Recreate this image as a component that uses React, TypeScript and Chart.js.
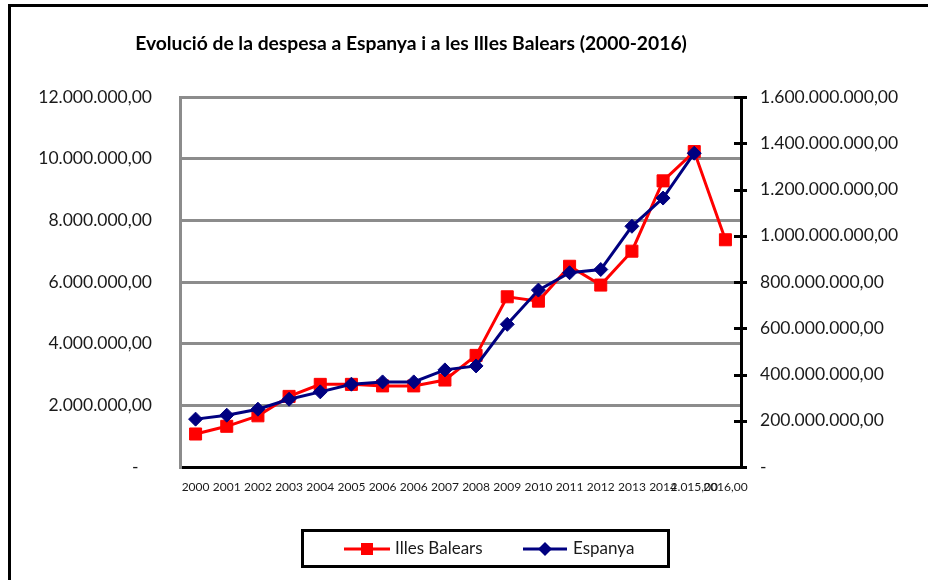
import React, { useEffect, useRef } from 'react';
import { Chart, registerables } from 'chart.js';

Chart.register(...registerables);

const categories = ['2000', '2001', '2002', '2003', '2004', '2005', '2006', '2006', '2007', '2008', '2009', '2010', '2011', '2012', '2013', '2014', '2.015,00', '2016,00'];
const illesBalears = [1070000, 1320000, 1660000, 2290000, 2680000, 2680000, 2630000, 2630000, 2820000, 3620000, 5520000, 5380000, 6510000, 5900000, 7000000, 9280000, 10230000, 7370000];
const espanya = [207000000, 224000000, 250000000, 293000000, 325000000, 358000000, 368000000, 368000000, 420000000, 437000000, 617000000, 765000000, 840000000, 854000000, 1041000000, 1163000000, 1357000000, null];
const leftMax = 12000000;
const leftStep = 2000000;
const rightMax = 1600000000;
const rightStep = 200000000;
const titleText = 'Evolució de la despesa a Espanya i a les Illes Balears (2000-2016)';
const seriesNames = ['Illes Balears', 'Espanya'];

const RED = '#ff0000';
const BLUE = '#000080';
const GRID = '#8c8c8c';
const TEXT = '#1a1a1a';
const FONT = 'Lato';

function fmt(v: number, zeroLabel: string): string {
  if (v === 0) return zeroLabel;
  const s = Math.round(v).toString().replace(/\B(?=(\d{3})+(?!\d))/g, '.');
  return s + ',00';
}

const decor = {
  id: 'decor',
  afterDraw(chart: any) {
    const ctx = chart.ctx as CanvasRenderingContext2D;
    ctx.save();
    // frame
    ctx.strokeStyle = '#000';
    ctx.lineWidth = 3;
    ctx.beginPath();
    ctx.moveTo(9.5, 600);
    ctx.lineTo(9.5, 5.5);
    ctx.lineTo(940, 5.5);
    ctx.stroke();

    // title
    ctx.fillStyle = '#000';
    ctx.font = `bold 19.3px ${FONT}`;
    ctx.textAlign = 'center';
    ctx.textBaseline = 'middle';
    ctx.fillText(titleText, 411, 44);

    // right axis tick crosses
    const y1 = chart.scales.y1;
    const xr = chart.chartArea.right;
    ctx.strokeStyle = '#000';
    ctx.lineWidth = 3;
    y1.ticks.forEach((t: any) => {
      const py = Math.round(y1.getPixelForValue(t.value)) + 0.5;
      ctx.beginPath();
      ctx.moveTo(xr - 7, py);
      ctx.lineTo(xr + 6, py);
      ctx.stroke();
    });

    // legend
    ctx.lineWidth = 3;
    ctx.strokeStyle = '#000';
    ctx.strokeRect(302.5, 530.5, 366, 36);
    const ly = 549;
    ctx.strokeStyle = RED;
    ctx.lineWidth = 3;
    ctx.beginPath();
    ctx.moveTo(344, ly);
    ctx.lineTo(390, ly);
    ctx.stroke();
    ctx.fillStyle = RED;
    ctx.fillRect(361, ly - 6, 12, 12);
    ctx.strokeStyle = BLUE;
    ctx.beginPath();
    ctx.moveTo(523, ly);
    ctx.lineTo(567, ly);
    ctx.stroke();
    ctx.fillStyle = BLUE;
    ctx.beginPath();
    ctx.moveTo(545, ly - 7);
    ctx.lineTo(552, ly);
    ctx.lineTo(545, ly + 7);
    ctx.lineTo(538, ly);
    ctx.closePath();
    ctx.fill();
    ctx.fillStyle = TEXT;
    ctx.font = `17px ${FONT}`;
    ctx.textAlign = 'left';
    ctx.textBaseline = 'middle';
    ctx.fillText(seriesNames[0], 395, ly);
    ctx.fillText(seriesNames[1], 573, ly);
    ctx.restore();
  },
};

export default function App() {
  const ref = useRef<HTMLCanvasElement | null>(null);
  useEffect(() => {
    if (!ref.current) return;
    const chart = new Chart(ref.current, {
      type: 'line',
      data: {
        labels: categories,
        datasets: [
          {
            label: seriesNames[0],
            data: illesBalears,
            yAxisID: 'y',
            borderColor: RED,
            backgroundColor: RED,
            borderWidth: 3,
            pointStyle: 'rect',
            pointRadius: 8.5,
            pointBorderWidth: 1,
            pointBorderColor: RED,
            pointBackgroundColor: RED,
            tension: 0,
            order: 1,
          },
          {
            label: seriesNames[1],
            data: espanya,
            yAxisID: 'y1',
            borderColor: BLUE,
            backgroundColor: BLUE,
            borderWidth: 3,
            pointStyle: 'rectRot',
            pointRadius: 7,
            pointBorderWidth: 1,
            pointBorderColor: BLUE,
            pointBackgroundColor: BLUE,
            tension: 0,
            spanGaps: false,
            order: 0,
          },
        ],
      },
      options: {
        responsive: false,
        animation: false,
        devicePixelRatio: 1,
        layout: { padding: { top: 97, left: 0, right: 0, bottom: 0 } },
        plugins: {
          legend: { display: false },
          title: { display: false },
          tooltip: { enabled: false },
        },
        scales: {
          x: {
            offset: true,
            grid: { display: false, drawTicks: false },
            border: { color: '#000', width: 3 },
            ticks: {
              autoSkip: false,
              maxRotation: 0,
              minRotation: 0,
              padding: 13,
              color: TEXT,
              font: { family: FONT, size: 12 },
            },
            afterFit: (s: any) => {
              s.height = 113;
            },
          },
          y: {
            position: 'left',
            min: 0,
            max: leftMax,
            ticks: {
              stepSize: leftStep,
              callback: (v: any) => fmt(Number(v), '-   '),
              padding: 28,
              color: TEXT,
              font: { family: FONT, size: 17.5 },
            },
            grid: {
              color: (c: any) => (c.tick && c.tick.value === 0 ? 'rgba(0,0,0,0)' : GRID),
              lineWidth: 3,
              drawTicks: false,
            },
            border: { color: GRID, width: 3 },
            afterFit: (s: any) => {
              s.width = 180;
            },
          },
          y1: {
            position: 'right',
            min: 0,
            max: rightMax,
            ticks: {
              stepSize: rightStep,
              callback: (v: any) => fmt(Number(v), '-'),
              padding: 19,
              color: TEXT,
              font: { family: FONT, size: 17.5 },
            },
            grid: { drawOnChartArea: false, drawTicks: false },
            border: { color: '#000', width: 3 },
            afterFit: (s: any) => {
              s.width = 187;
            },
          },
        },
      },
      plugins: [decor],
    });
    return () => chart.destroy();
  }, []);
  return (
    <div style={{ position: 'absolute', left: 0, top: 0, width: 928, height: 580, background: '#fff' }}>
      <canvas ref={ref} width={928} height={580} style={{ display: 'block', width: 928, height: 580 }} />
    </div>
  );
}
